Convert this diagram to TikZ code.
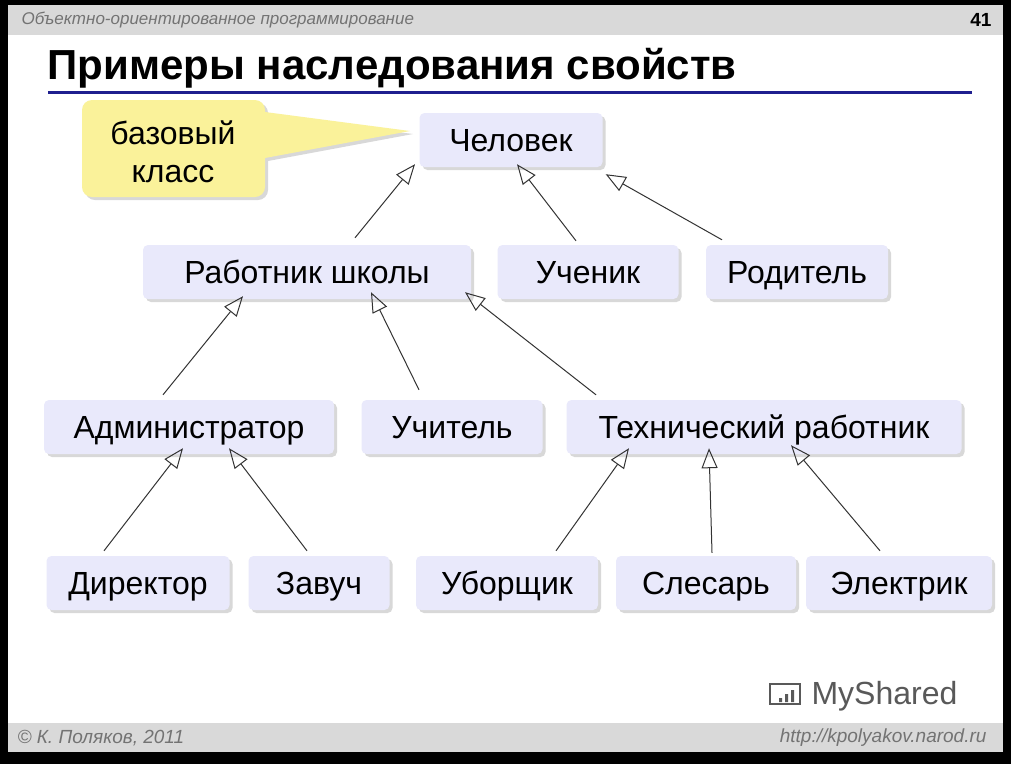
\documentclass[tikz,border=0pt]{standalone}
\usepackage{fontspec}
\setmainfont{Liberation Sans}
\usetikzlibrary{shadows,arrows.meta}
\definecolor{boxfill}{HTML}{E9E9FB}
\definecolor{callfill}{HTML}{FAF29A}
\definecolor{barfill}{HTML}{D9D9D9}
\definecolor{titleline}{HTML}{1F1F8F}
\tikzset{
 cls/.style={draw=none,fill=boxfill,rounded corners=5pt,minimum height=54pt,inner xsep=0pt,
   text height=26pt,text depth=3pt,
   font=\fontsize{32}{34}\selectfont,drop shadow={shadow xshift=3pt,shadow yshift=-3pt,fill=black!30}},
 inh/.style={draw=black!80,line width=1pt,-{Triangle[open,length=20pt,width=16pt]}},
}
\begin{document}
\begin{tikzpicture}[x=1pt,y=-1pt]
\useasboundingbox (0,0) rectangle (1011,764);
\fill[black] (0,0) rectangle (1011,764);
\fill[white] (8,5) rectangle (1003,752);
\fill[barfill] (8,5) rectangle (1003,35);
\fill[barfill] (8,723) rectangle (1003,752);
\node[anchor=west,text=black!55,font=\fontsize{17}{18}\selectfont\itshape] (hdr) at (18,20) {Объектно-ориентированное программирование};
\node[anchor=east,font=\fontsize{19}{20}\selectfont\bfseries] (num) at (995,20) {41};
\node[anchor=west,font=\fontsize{19}{21}\selectfont\itshape,text=black!55] (cp) at (14,738) {© К. Поляков, 2011};
\node[anchor=east,font=\fontsize{19}{21}\selectfont\itshape,text=black!55] (url) at (990,738) {http://kpolyakov.narod.ru};
\node[anchor=west,font=\fontsize{42}{44}\selectfont\bfseries] (title) at (44,68) {Примеры наследования свойств};
\draw[titleline,line width=3pt] (48,92) -- (972,92);
\node[anchor=west,text=black!65,font=\fontsize{32}{34}\selectfont] (ms) at (808,696) {MyShared};
\draw[black!65,line width=1.5pt] (770,684) rectangle (800,704);
\fill[black!65] (779,698) rectangle (782,702) (785,694) rectangle (788,702) (791,690) rectangle (794,702);
% callout
\fill[callfill,drop shadow={shadow xshift=3pt,shadow yshift=-3pt,fill=black!30}] (92,100) -- (255,100) to[out=0,in=90] (265,110) -- (265,112) -- (410,131) -- (265,158) -- (265,187) to[out=-90,in=0] (255,197) -- (92,197) to[out=180,in=-90] (82,187) -- (82,110) to[out=90,in=180] (92,100) -- cycle;
\node[align=center,font=\fontsize{32}{38}\selectfont] (cal) at (173,152) {базовый\\класс};
% nodes
\node[cls,minimum width=183pt] (p) at (511,140) {Человек};
\node[cls,minimum width=328pt] (w) at (307,272) {Работник школы};
\node[cls,minimum width=181pt] (u) at (588,272) {Ученик};
\node[cls,minimum width=182pt] (r) at (797,272) {Родитель};
\node[cls,minimum width=290pt] (a) at (189,427) {Администратор};
\node[cls,minimum width=181pt] (t) at (452,427) {Учитель};
\node[cls,minimum width=395pt] (tw) at (764,427) {Технический работник};
\node[cls,minimum width=183pt] (d) at (138,583) {Директор};
\node[cls,minimum width=141pt] (z) at (319,583) {Завуч};
\node[cls,minimum width=182pt] (ub) at (507,583) {Уборщик};
\node[cls,minimum width=180pt] (s) at (706,583) {Слесарь};
\node[cls,minimum width=186pt] (e) at (899,583) {Электрик};
% arrows
\draw[inh] (w.north -| 355,0) ++(0,-7) -- ([yshift=3pt]p.south -| 415,0);
\draw[inh] (u.north -| 576,0) ++(0,-4) -- ([yshift=3pt]p.south -| 517,0);
\draw[inh] (r.north -| 722,0) ++(0,-5) -- ([shift={(3pt,-7pt)}]p.south east);
\draw[inh] (a.north -| 163,0) ++(0,-5) -- ([yshift=3pt]w.south -| 243,0);
\draw[inh] (t.north -| 419,0) ++(0,-10) -- ([yshift=7pt]w.south -| 371,0);
\draw[inh] (tw.north -| 596,0) ++(0,-5) -- ([yshift=7pt]w.south -| 465,0);
\draw[inh] (d.north -| 104,0) ++(0,-5) -- ([yshift=6pt]a.south -| 183,0);
\draw[inh] (z.north -| 307,0) ++(0,-5) -- ([yshift=6pt]a.south -| 229,0);
\draw[inh] (ub.north -| 556,0) ++(0,-5) -- ([yshift=6pt]tw.south -| 629,0);
\draw[inh] (s.north -| 712,0) ++(0,-3) -- ([yshift=6pt]tw.south -| 709,0);
\draw[inh] (e.north -| 880,0) ++(0,-5) -- ([yshift=9pt]tw.south -| 791,0);
\end{tikzpicture}
\end{document}
